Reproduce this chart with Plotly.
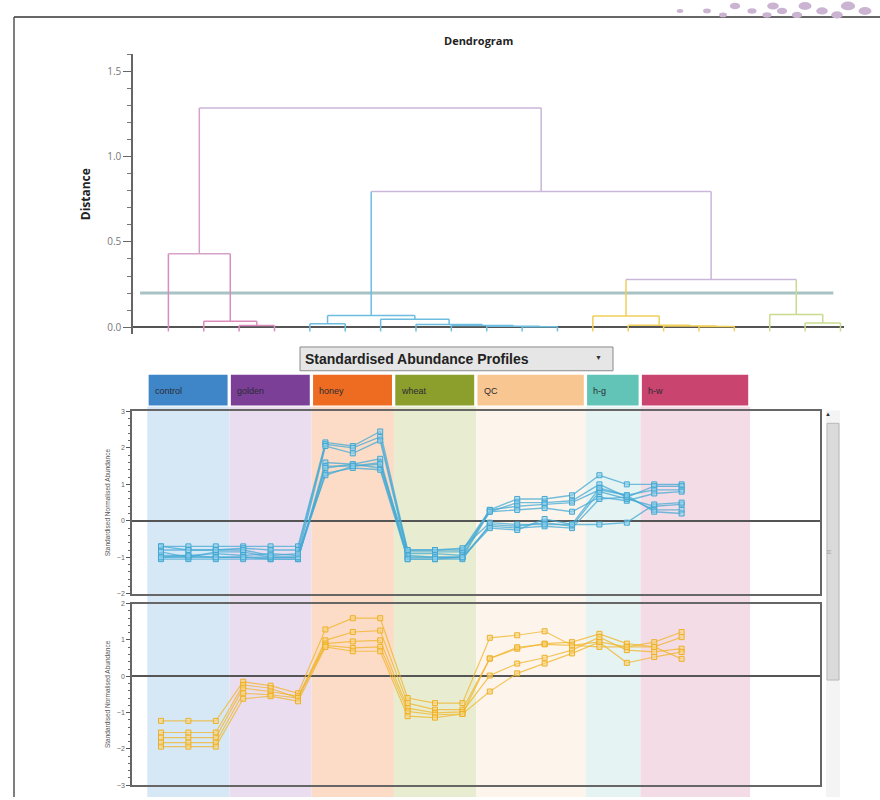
import plotly.graph_objects as go

# ---------------- data ----------------
# Dendrogram: 20 runs (leaves), cluster membership of each leaf
leaf_cluster = ["pink"] * 4 + ["blue"] * 8 + ["yellow"] * 5 + ["green"] * 3
# merges: node ids >= 20 are created in order
merge_left = [2, 1, 0, 4, 10, 9, 8, 7, 6, 23, 15, 14, 13, 12, 18, 17, 33, 29, 22]
merge_right = [3, 20, 21, 5, 11, 24, 25, 26, 27, 28, 16, 30, 31, 32, 19, 34, 35, 36, 37]
merge_height = [0.01, 0.035, 0.43, 0.02, 0.003, 0.006, 0.01, 0.015, 0.047, 0.068,
                0.004, 0.007, 0.012, 0.065, 0.025, 0.075, 0.28, 0.795, 1.285]
merge_cluster = ["pink", "pink", "pinktop", "blue", "blue", "blue", "blue", "blue", "blue", "blue",
                 "yellow", "yellow", "yellow", "yellow", "green", "green", "purple", "purple", "purple"]
cut_threshold = 0.2

# Abundance profiles
groups = ["control", "golden", "honey", "wheat", "QC", "h-g", "h-w"]
group_sizes = [3, 3, 3, 3, 4, 2, 2]
group_span = [3, 3, 3, 3, 4, 2, 4]

blue_profiles = [
    [-0.7, -0.7, -0.7, -0.7, -0.7, -0.7, 2.15, 2.05, 2.45, -0.8, -0.8, -0.8, 0.3, 0.6, 0.6, 0.7, 1.25, 1.0, 1.0, 1.0],
    [-0.8, -0.8, -0.8, -0.75, -0.8, -0.8, 2.1, 2.0, 2.3, -0.85, -0.85, -0.85, 0.25, 0.5, 0.5, 0.55, 1.0, 0.65, 0.95, 0.95],
    [-0.95, -0.95, -0.9, -0.95, -0.9, -0.95, 2.05, 1.85, 2.2, -0.9, -0.9, -0.95, 0.3, 0.4, 0.45, 0.5, 0.85, 0.7, 0.85, 0.85],
    [-1.0, -1.0, -1.0, -1.0, -1.05, -1.05, 1.6, 1.55, 1.7, -1.0, -1.0, -1.0, 0.25, 0.3, 0.35, 0.25, 0.65, 0.55, 0.75, 0.8],
    [-1.05, -1.05, -1.05, -1.05, -1.05, -1.05, 1.5, 1.5, 1.6, -1.05, -1.05, -1.05, -0.1, -0.15, -0.05, -0.15, 0.8, 0.6, 0.4, 0.45],
    [-0.85, -1.0, -0.85, -0.85, -1.0, -1.0, 1.45, 1.55, 1.45, -0.95, -1.0, -1.0, -0.15, -0.2, -0.15, -0.2, 0.6, 0.65, 0.3, 0.3],
    [-1.0, -0.95, -1.0, -1.0, -1.0, -1.0, 1.3, 1.45, 1.4, -1.05, -1.05, -1.0, -0.2, -0.25, 0.05, -0.1, 0.9, 0.7, 0.25, 0.2],
    [-0.7, -0.8, -0.8, -0.8, -0.95, -0.9, 1.25, 1.5, 1.55, -0.8, -0.8, -0.75, -0.05, -0.1, -0.1, -0.1, -0.1, -0.05, 0.45, 0.5],
]
yellow_profiles = [
    [-1.23, -1.23, -1.23, -0.15, -0.26, -0.47, 1.29, 1.6, 1.6, -0.6, -0.74, -0.74, 1.06, 1.13, 1.24, 0.85, 0.95, 0.81, 0.94, 1.22],
    [-1.55, -1.55, -1.55, -0.24, -0.33, -0.6, 0.99, 1.22, 1.26, -0.74, -0.92, -0.92, 0.49, 0.76, 0.9, 0.94, 1.17, 0.9, 0.81, 1.08],
    [-1.69, -1.69, -1.69, -0.33, -0.42, -0.55, 0.9, 0.96, 0.99, -0.88, -1.01, -0.98, 0.02, 0.35, 0.51, 0.72, 1.08, 0.72, 0.67, 0.76],
    [-1.83, -1.83, -1.83, -0.47, -0.51, -0.6, 0.85, 0.78, 0.81, -0.97, -1.06, -1.04, -0.42, 0.08, 0.35, 0.63, 0.94, 0.37, 0.53, 0.67],
    [-1.94, -1.94, -1.94, -0.62, -0.55, -0.69, 0.81, 0.69, 0.69, -1.1, -1.14, -1.04, 0.49, 0.8, 0.88, 0.85, 0.81, 0.81, 0.81, 0.48],
]

# ---------------- styles ----------------
W, H = 880, 800
def px(x): return x / W
def py(y): return 1 - y / H

cluster_colors = {"pink": "#dc8cbc", "pinktop": "#d7a2c9", "blue": "#6dbde0",
                  "yellow": "#f0cf5a", "green": "#c8dc8e", "purple": "#c9b6d9"}
header_colors = ["#3f86c8", "#7b3f98", "#ee6b22", "#8c9e2c", "#f8c690", "#62c4b6", "#c9446f"]
band_colors = ["#d6e8f6", "#e9ddef", "#fcdcc7", "#e8edd2", "#fdf5ec", "#e5f3f3", "#f4dce7"]

fig = go.Figure()

# ---------------- dendrogram ----------------
n_leaves = len(leaf_cluster)
node_x = list(range(n_leaves))
node_h = [-0.025] * n_leaves
node_c = list(leaf_cluster)
segs = {}
def add_seg(c, xs, ys):
    segs.setdefault(c, ([], []))
    segs[c][0].extend(xs + [None])
    segs[c][1].extend(ys + [None])

for l, r, h, c in zip(merge_left, merge_right, merge_height, merge_cluster):
    xl, xr = node_x[l], node_x[r]
    add_seg(node_c[l], [xl, xl], [node_h[l], h])
    add_seg(node_c[r], [xr, xr], [node_h[r], h])
    add_seg(c, [xl, xr], [h, h])
    node_x.append((xl + xr) / 2)
    node_h.append(h)
    node_c.append(c)

for c, (xs, ys) in segs.items():
    fig.add_trace(go.Scatter(x=xs, y=ys, mode="lines", line=dict(color=cluster_colors[c], width=1.5),
                             xaxis="x", yaxis="y", hoverinfo="skip"))

fig.add_shape(type="line", xref="x domain", yref="y", x0=0.01, x1=0.985, y0=cut_threshold, y1=cut_threshold,
              line=dict(color="#a9c3c5", width=3), layer="below")

# ---------------- profile plots ----------------
sample_x = list(range(sum(group_sizes)))
for prof in blue_profiles:
    fig.add_trace(go.Scatter(x=sample_x, y=prof, mode="lines+markers", xaxis="x2", yaxis="y2",
                             line=dict(color="rgba(70,170,212,0.75)", width=1.4),
                             marker=dict(symbol="square", size=5, color="rgba(150,210,235,0.6)",
                                         line=dict(color="#45a8d2", width=1)), hoverinfo="skip"))
for prof in yellow_profiles:
    fig.add_trace(go.Scatter(x=sample_x, y=prof, mode="lines+markers", xaxis="x3", yaxis="y3",
                             line=dict(color="rgba(240,180,40,0.75)", width=1.2),
                             marker=dict(symbol="square", size=5, color="rgba(248,215,130,0.6)",
                                         line=dict(color="#eeb02a", width=1)), hoverinfo="skip"))

# bands and headers
start = -0.5
for g, span, hc, bc in zip(groups, group_span, header_colors, band_colors):
    fig.add_shape(type="rect", xref="x2", yref="paper", x0=start, x1=start + span,
                  y0=py(800), y1=py(406), fillcolor=bc, line=dict(width=0), layer="below")
    fig.add_shape(type="rect", xref="x2", yref="paper", x0=start + 0.05, x1=start + span - 0.07,
                  y0=py(405), y1=py(374), fillcolor=hc, line=dict(width=0), layer="below")
    fig.add_annotation(x=start + 0.2, y=py(390), xref="x2", yref="paper", text=g, showarrow=False,
                       xanchor="left", yanchor="middle",
                       font=dict(family="Liberation Sans", size=9, color="#2b2b35"))
    start += span

# ---------------- layout ----------------
prof_x = dict(range=[-1.058, 24.05], showline=True, mirror=True, linecolor="#666", linewidth=1.5,
              showticklabels=False, ticks="", showgrid=False, zeroline=False, domain=[px(132), px(820)])
def prof_y(rng, dom, anchor):
    return dict(range=rng, domain=dom, anchor=anchor, dtick=1, tick0=0, ticks="outside", ticklen=4,
                tickcolor="#555", tickfont=dict(size=7, color="#666", family="Liberation Sans"),
                showline=True, mirror=True, linecolor="#666", linewidth=1.5, showgrid=False,
                zeroline=True, zerolinecolor="#555", zerolinewidth=1.5,
                minor=dict(dtick=0.2, ticks="outside", ticklen=2, tickcolor="#666"),
                title=dict(text="Standardised Normalised Abundance", standoff=6,
                           font=dict(size=6.5, color="#555", family="Liberation Sans")))

fig.update_layout(
    width=W, height=H, margin=dict(l=0, r=0, t=0, b=0),
    paper_bgcolor="white", plot_bgcolor="rgba(0,0,0,0)", showlegend=False,
    font=dict(family="Open Sans"),
    xaxis=dict(domain=[px(133), px(844)], range=[-1, 19.1], visible=False, anchor="y"),
    yaxis=dict(domain=[py(332.9), py(50.8)], range=[-0.04, 1.6], anchor="x", tick0=0, dtick=0.5,
               tickformat=".1f", ticks="outside", ticklen=8, tickcolor="#666",
               tickfont=dict(size=10, color="#777", family="Open Sans"),
               showline=True, linecolor="#666", linewidth=1.5, showgrid=False,
               zeroline=True, zerolinecolor="#555", zerolinewidth=2,
               minor=dict(dtick=0.1, ticks="outside", ticklen=4, tickcolor="#777"),
               title=dict(text="<b>Distance</b>", standoff=14, font=dict(size=12, color="#222"))),
    xaxis2=dict(prof_x, anchor="y2"),
    yaxis2=prof_y([-2, 3], [py(595), py(411)], "x2"),
    xaxis3=dict(prof_x, anchor="y3"),
    yaxis3=prof_y([-3, 2], [py(788), py(605)], "x3"),
)

# title and UI elements
fig.add_annotation(x=px(478), y=py(37), xref="paper", yref="paper", text="<b>Dendrogram</b>", showarrow=False,
                   yanchor="middle", font=dict(size=11, color="#222", family="Open Sans"))
fig.add_shape(type="rect", xref="paper", yref="paper", x0=px(300), x1=px(613), y0=py(370), y1=py(346),
              fillcolor="#e6e6e6", line=dict(color="#8a8a8a", width=1))
fig.add_annotation(x=px(303), y=py(358), xref="paper", yref="paper", xanchor="left", yanchor="middle",
                   text="<b>Standardised Abundance Profiles</b>", showarrow=False,
                   font=dict(size=14, color="#222", family="Liberation Sans"))
fig.add_annotation(x=px(604), y=py(357), xref="paper", yref="paper", text="▼", showarrow=False,
                   yanchor="middle", font=dict(size=7, color="#333"))
# scrollbar
fig.add_shape(type="rect", xref="paper", yref="paper", x0=px(826), x1=px(840), y0=py(800), y1=py(410),
              fillcolor="#f4f4f4", line=dict(width=0), layer="below")
fig.add_shape(type="rect", xref="paper", yref="paper", x0=px(827), x1=px(839), y0=py(682), y1=py(423),
              fillcolor="#dadada", line=dict(color="#b8b8b8", width=1))
fig.add_annotation(x=px(833), y=py(414), xref="paper", yref="paper", text="▲", showarrow=False,
                   yanchor="middle", font=dict(size=6, color="#333"))
fig.add_annotation(x=px(833), y=py(552), xref="paper", yref="paper", text="≡", showarrow=False,
                   yanchor="middle", font=dict(size=9, color="#999"))
# page frame
fig.add_shape(type="line", xref="paper", yref="paper", x0=px(14), x1=px(880), y0=py(13), y1=py(13),
              line=dict(color="#333", width=1.5))
fig.add_shape(type="line", xref="paper", yref="paper", x0=px(14), x1=px(14), y0=py(13), y1=py(800),
              line=dict(color="#555", width=1.5))
# decorative page dots (top-right corner of the printed page)
dot_x = [680, 707, 735, 752, 773, 782, 805, 822, 848, 865, 723, 767, 797, 837]
dot_y = [7, 7, 2, 7, 2, 7, 2, 7, 2, 7, 11, 11, 11, 11]
dot_r = [2.5, 3, 4, 3.5, 4.5, 4, 5, 4.5, 5.5, 5, 3, 3.5, 4, 4.5]
for dx, dy, dr in zip(dot_x, dot_y, dot_r):
    fig.add_shape(type="circle", xref="paper", yref="paper", x0=px(dx - dr * 1.3), x1=px(dx + dr * 1.3),
                  y0=py(dy + dr * 0.8), y1=py(dy - dr * 0.8), fillcolor="#cbb4d2", line=dict(width=0))

fig.write_html("out.html", config={"displayModeBar": False},
               post_script="document.body.style.margin='0';document.body.style.overflow='hidden';")
